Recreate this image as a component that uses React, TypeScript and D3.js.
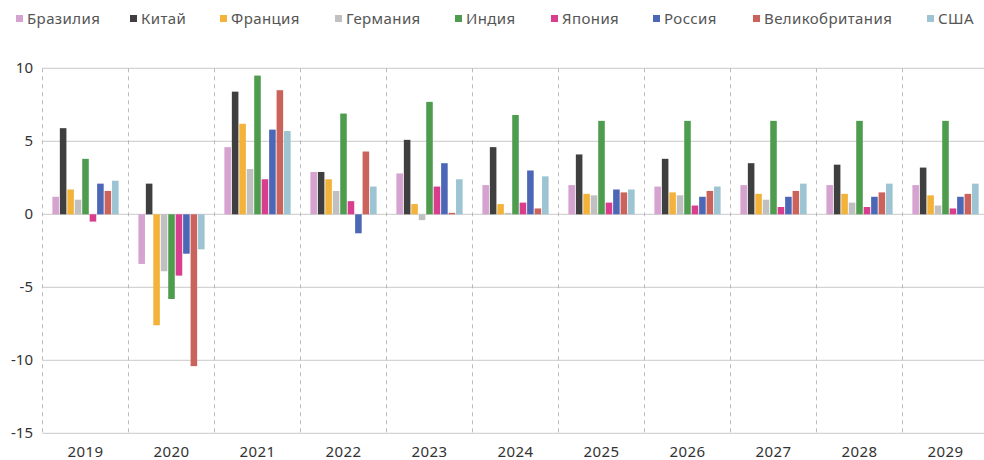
import React from "react";
import * as d3 from "d3";

const years = ["2019","2020","2021","2022","2023","2024","2025","2026","2027","2028","2029"];
const countries = ["Бразилия","Китай","Франция","Германия","Индия","Япония","Россия","Великобритания","США"];
const colors = ["#d6a3d0","#3f3f3f","#f3b23a","#bfc0bf","#4e9c4e","#d93d8e","#4c67b6","#c9635b","#9cc4d2"];

const brazil = [1.2,-3.4,4.6,2.9,2.8,2.0,2.0,1.9,2.0,2.0,2.0];
const china = [5.9,2.1,8.4,2.9,5.1,4.6,4.1,3.8,3.5,3.4,3.2];
const france = [1.7,-7.6,6.2,2.4,0.7,0.7,1.4,1.5,1.4,1.4,1.3];
const germany = [1.0,-3.9,3.1,1.6,-0.4,0.1,1.3,1.3,1.0,0.8,0.6];
const india = [3.8,-5.8,9.5,6.9,7.7,6.8,6.4,6.4,6.4,6.4,6.4];
const japan = [-0.5,-4.2,2.4,0.9,1.9,0.8,0.8,0.6,0.5,0.5,0.4];
const russia = [2.1,-2.7,5.8,-1.3,3.5,3.0,1.7,1.2,1.2,1.2,1.2];
const uk = [1.6,-10.4,8.5,4.3,0.1,0.4,1.5,1.6,1.6,1.5,1.4];
const usa = [2.3,-2.4,5.7,1.9,2.4,2.6,1.7,1.9,2.1,2.1,2.1];
const series = [brazil,china,france,germany,india,japan,russia,uk,usa];

const yTicks = [10,5,0,-5,-10,-15];
const legendX = [16,130,220,335,455,551,653,753,927];

const W = 984, H = 460;
const left = 42.5, bandW = 86;
const FONT = "'Noto Sans', sans-serif";

export default function App() {
  const x0 = d3.scaleBand<string>().domain(years).range([left, left + bandW * years.length]).paddingInner(0.23).paddingOuter(0.115);
  const x1 = d3.scaleBand<string>().domain(countries).range([0, x0.bandwidth()]).paddingInner(0.12);
  const y = d3.scaleLinear().domain([-15, 10]).range([433.3, 68.3]);
  const bounds = years.map((_, i) => left + bandW * i);

  return (
    <svg width={W} height={H} style={{ position: "absolute", left: 0, top: 0, background: "#fff" }} fontFamily={FONT}>
      {/* legend */}
      {countries.map((c, i) => (
        <g key={c}>
          <rect x={legendX[i]} y={15} width={7} height={7} fill={colors[i]} />
          <text x={legendX[i] + 11} y={24} fontSize={15} letterSpacing={0.4} fill="#555">{c}</text>
        </g>
      ))}
      {/* horizontal grid */}
      {yTicks.map(t => (
        <g key={t}>
          <line x1={left} x2={W} y1={y(t)} y2={y(t)} stroke="#d4d4d4" strokeWidth={1.2} />
          <text x={33} y={y(t) + 5} fontSize={15} fill="#333" textAnchor="end">{t}</text>
        </g>
      ))}
      {/* vertical dashed */}
      {bounds.map((b, i) => (
        <line key={i} x1={b} x2={b} y1={y(10)} y2={y(-15)} stroke="#aaa" strokeWidth={0.8} strokeDasharray="4,4" />
      ))}
      {/* bars */}
      {years.map((yr, yi) => (
        <g key={yr} transform={`translate(${x0(yr)},0)`}>
          {series.map((s, si) => {
            const v = s[yi];
            return (
              <rect key={si} x={x1(countries[si])} width={x1.bandwidth()}
                y={y(Math.max(0, v))} height={Math.abs(y(v) - y(0))} fill={colors[si]} />
            );
          })}
        </g>
      ))}
      {/* x labels */}
      {years.map(yr => (
        <text key={yr} x={(x0(yr) as number) + x0.bandwidth() / 2} y={457} fontSize={15} letterSpacing={0.4} fill="#333" textAnchor="middle">{yr}</text>
      ))}
    </svg>
  );
}
